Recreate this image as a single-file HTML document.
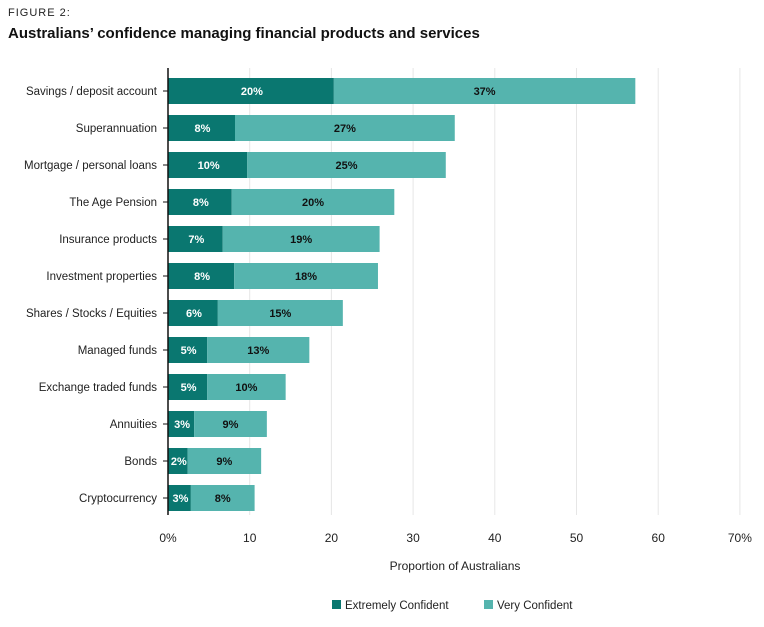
<!DOCTYPE html>
<html><head><meta charset="utf-8"><style>
body{margin:0;background:#fff;font-family:"Liberation Sans",sans-serif;}
svg text{font-family:"Liberation Sans",sans-serif;}
</style></head><body>
<svg id="chart" width="764" height="622">
<text x="8" y="16" font-size="11" fill="#222" letter-spacing="1">FIGURE 2:</text>
<text x="8" y="38" font-size="15" font-weight="bold" fill="#111">Australians’ confidence managing financial products and services</text>
<g id="grid"></g><g id="bars"></g><g id="axes"></g>
<text x="455" y="570" font-size="12" fill="#222" text-anchor="middle">Proportion of Australians</text>
<rect x="332" y="600" width="9" height="9" fill="#0a7770"/>
<text x="345" y="609" font-size="11.5" fill="#222">Extremely Confident</text>
<rect x="484" y="600" width="9" height="9" fill="#55b4ae"/>
<text x="497" y="609" font-size="11.5" fill="#222">Very Confident</text>
</svg>
<script>
const categories=["Savings / deposit account","Superannuation","Mortgage / personal loans","The Age Pension","Insurance products","Investment properties","Shares / Stocks / Equities","Managed funds","Exchange traded funds","Annuities","Bonds","Cryptocurrency"];
const extremely=[20.3,8.2,9.7,7.8,6.7,8.1,6.1,4.8,4.8,3.2,2.4,2.8];
const very=[36.9,26.9,24.3,19.9,19.2,17.6,15.3,12.5,9.6,8.9,9.0,7.8];
const extremelyLabels=["20%","8%","10%","8%","7%","8%","6%","5%","5%","3%","2%","3%"];
const veryLabels=["37%","27%","25%","20%","19%","18%","15%","13%","10%","9%","9%","8%"];
const ticks=[0,10,20,30,40,50,60,70];
const tickLabels=["0%","10","20","30","40","50","60","70%"];
const NS="http://www.w3.org/2000/svg";
const x=v=>168+v*8.17;
const yc=i=>91+i*37;
function mk(p,t,a){const e=document.createElementNS(NS,t);for(const k in a)e.setAttribute(k,a[k]);p.appendChild(e);return e;}
const grid=document.getElementById('grid'),bars=document.getElementById('bars'),axes=document.getElementById('axes');
ticks.forEach((t,i)=>{
 if(i>0){const l=mk(grid,'line',{x1:x(t),x2:x(t),y1:68,y2:515,stroke:'#e6e6e6','stroke-width':1});
 
 }
 const tx=mk(axes,'text',{x:x(t),y:542,'font-size':12,fill:'#222','text-anchor':'middle'});tx.textContent=tickLabels[i];
 
 
});
const ax=mk(axes,'line',{x1:168,x2:168,y1:68,y2:515,stroke:'#111','stroke-width':1.5});


categories.forEach((c,i)=>{
 const y=yc(i);
 const tk=mk(axes,'line',{x1:163,x2:168,y1:y,y2:y,stroke:'#111'});
 
 
 const lb=mk(axes,'text',{x:157,y:y+4,'font-size':11.5,fill:'#222','text-anchor':'end'});lb.textContent=c;
 
 
 const r1=mk(bars,'rect',{x:x(0),y:y-13,width:x(extremely[i])-x(0),height:26,fill:'#0a7770'});
 
 
 const r2=mk(bars,'rect',{x:x(extremely[i]),y:y-13,width:x(extremely[i]+very[i])-x(extremely[i]),height:26,fill:'#55b4ae'});
 
 
 const t1=mk(bars,'text',{x:(x(0)+x(extremely[i]))/2+1,y:y+4,'font-size':11,'font-weight':'bold',fill:'#fff','text-anchor':'middle'});t1.textContent=extremelyLabels[i];
 
 
 const t2=mk(bars,'text',{x:(x(extremely[i])+x(extremely[i]+very[i]))/2,y:y+4,'font-size':11,'font-weight':'bold',fill:'#111','text-anchor':'middle'});t2.textContent=veryLabels[i];
 
 
});
</script>
</body></html>
